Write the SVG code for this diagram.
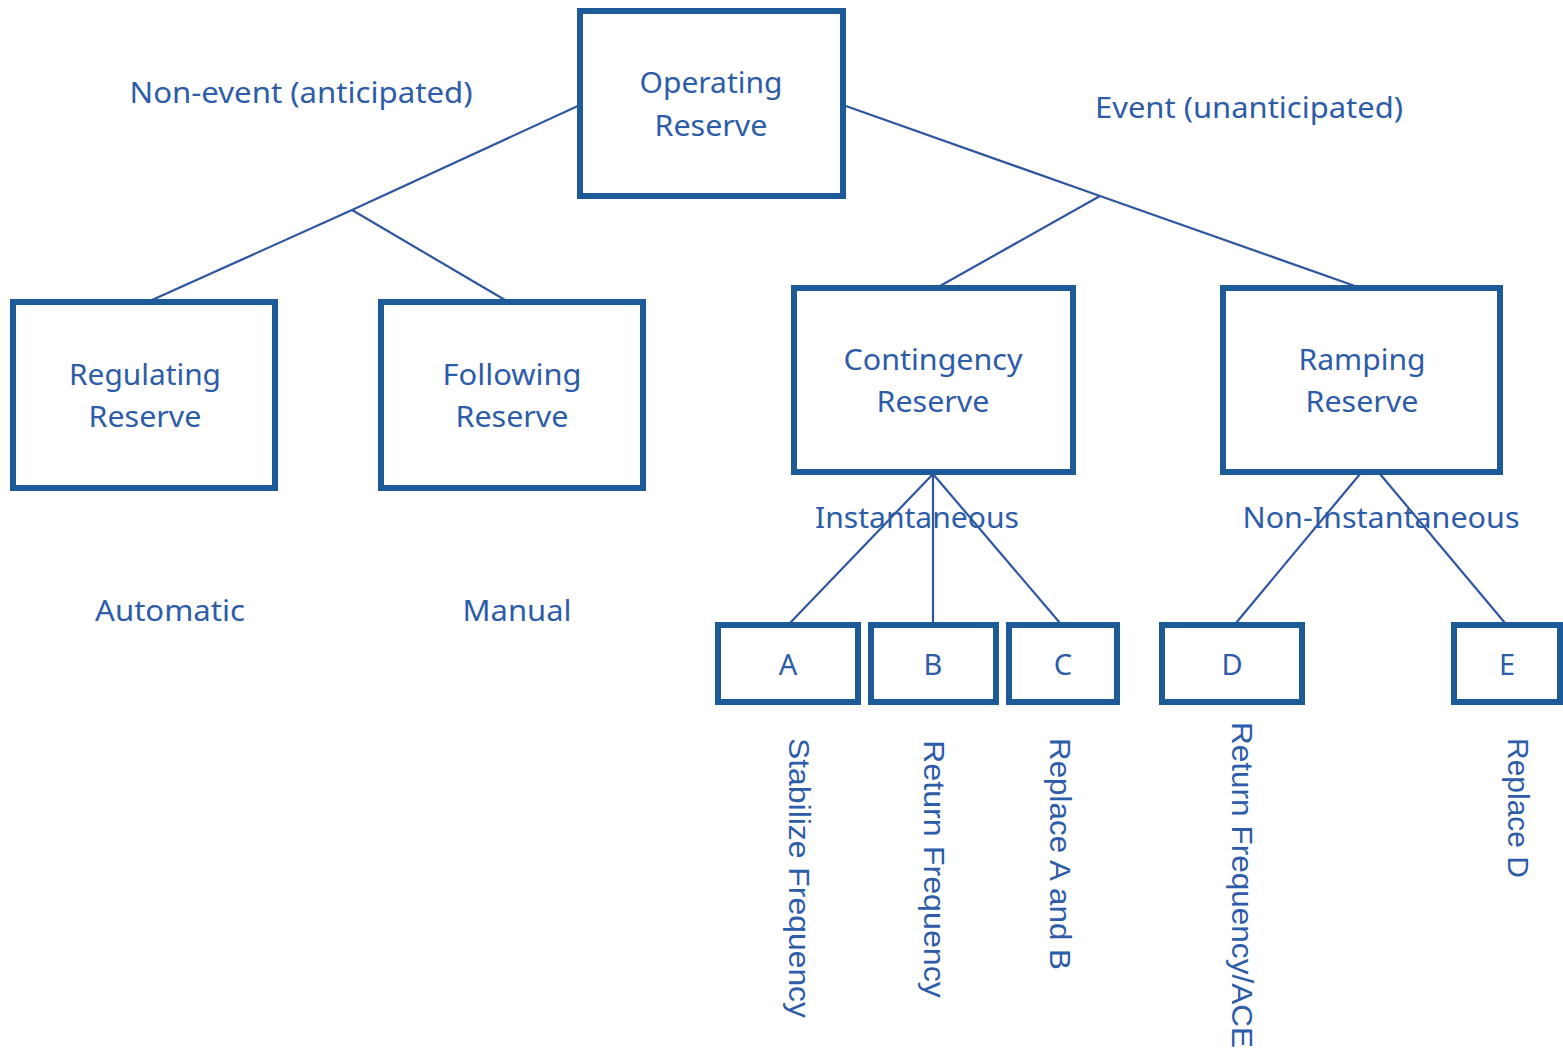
<svg xmlns="http://www.w3.org/2000/svg" width="1563" height="1050" viewBox="0 0 1563 1050">
<style>
.box{fill:#ffffff;stroke:#1d5a98;stroke-width:6}
.ln{stroke:#2f56a0;stroke-width:2.2;fill:none}
.t{font-family:"Noto Sans","Open Sans",sans-serif;font-size:29px;fill:#2d5ca8;text-anchor:middle}
.r{font-family:"Liberation Sans",Arial,sans-serif;font-size:30px;fill:#2d5ca8;text-anchor:middle}
</style>
<rect width="1563" height="1050" fill="#ffffff"/>
<g id="connectors">
<polyline class="ln" points="580,105 352,210 152,300"/>
<line class="ln" x1="352" y1="210" x2="505" y2="300"/>
<polyline class="ln" points="843,105 1100,196 1355,286"/>
<line class="ln" x1="1100" y1="196" x2="940" y2="286"/>
<line class="ln" x1="933" y1="474" x2="790" y2="623"/>
<line class="ln" x1="933" y1="474" x2="933" y2="623"/>
<line class="ln" x1="933" y1="474" x2="1060" y2="623"/>
<line class="ln" x1="1360" y1="474" x2="1236" y2="623"/>
<line class="ln" x1="1380" y1="474" x2="1505" y2="623"/>
</g>
<g id="labels">
<text class="t" x="301" y="103" textLength="343" lengthAdjust="spacingAndGlyphs">Non-event (anticipated)</text>
<text class="t" x="1249" y="118" textLength="308" lengthAdjust="spacingAndGlyphs">Event (unanticipated)</text>
<text class="t" x="917" y="528" textLength="204" lengthAdjust="spacingAndGlyphs">Instantaneous</text>
<text class="t" x="1381" y="528" textLength="277" lengthAdjust="spacingAndGlyphs">Non-Instantaneous</text>
<text class="t" x="170" y="621" textLength="150" lengthAdjust="spacingAndGlyphs">Automatic</text>
<text class="t" x="517" y="621" textLength="109" lengthAdjust="spacingAndGlyphs">Manual</text>
<text class="r" transform="translate(789,878) rotate(90)" textLength="280" lengthAdjust="spacingAndGlyphs">Stabilize Frequency</text>
<text class="r" transform="translate(924,869) rotate(90)" textLength="258" lengthAdjust="spacingAndGlyphs">Return Frequency</text>
<text class="r" transform="translate(1050,854) rotate(90)" textLength="232" lengthAdjust="spacingAndGlyphs">Replace A and B</text>
<text class="r" transform="translate(1232,885) rotate(90)" textLength="326" lengthAdjust="spacingAndGlyphs">Return Frequency/ACE</text>
<text class="r" transform="translate(1508,808) rotate(90)" textLength="140" lengthAdjust="spacingAndGlyphs">Replace D</text>
</g>
<g id="operating">
<rect class="box" x="580" y="11" width="263" height="185"/>
<text class="t" x="711" y="93" textLength="143" lengthAdjust="spacingAndGlyphs">Operating</text>
<text class="t" x="711" y="136" textLength="113" lengthAdjust="spacingAndGlyphs">Reserve</text>
</g>
<g id="regulating">
<rect class="box" x="13" y="302" width="262" height="186"/>
<text class="t" x="145" y="385" textLength="152" lengthAdjust="spacingAndGlyphs">Regulating</text>
<text class="t" x="145" y="427" textLength="113" lengthAdjust="spacingAndGlyphs">Reserve</text>
</g>
<g id="following">
<rect class="box" x="381" y="302" width="262" height="186"/>
<text class="t" x="512" y="385" textLength="139" lengthAdjust="spacingAndGlyphs">Following</text>
<text class="t" x="512" y="427" textLength="113" lengthAdjust="spacingAndGlyphs">Reserve</text>
</g>
<g id="contingency">
<rect class="box" x="794" y="288" width="279" height="184"/>
<text class="t" x="933" y="370" textLength="179" lengthAdjust="spacingAndGlyphs">Contingency</text>
<text class="t" x="933" y="412" textLength="113" lengthAdjust="spacingAndGlyphs">Reserve</text>
</g>
<g id="ramping">
<rect class="box" x="1223" y="288" width="277" height="184"/>
<text class="t" x="1362" y="370" textLength="127" lengthAdjust="spacingAndGlyphs">Ramping</text>
<text class="t" x="1362" y="412" textLength="113" lengthAdjust="spacingAndGlyphs">Reserve</text>
</g>
<g id="nodeA">
<rect class="box" x="718" y="625" width="140" height="77"/>
<text class="t" x="788" y="675">A</text>
</g>
<g id="nodeB">
<rect class="box" x="871" y="625" width="125" height="77"/>
<text class="t" x="933" y="675">B</text>
</g>
<g id="nodeC">
<rect class="box" x="1009" y="625" width="108" height="77"/>
<text class="t" x="1063" y="675">C</text>
</g>
<g id="nodeD">
<rect class="box" x="1162" y="625" width="140" height="77"/>
<text class="t" x="1232" y="675">D</text>
</g>
<g id="nodeE">
<rect class="box" x="1454" y="625" width="106" height="77"/>
<text class="t" x="1507" y="675">E</text>
</g>
</svg>
